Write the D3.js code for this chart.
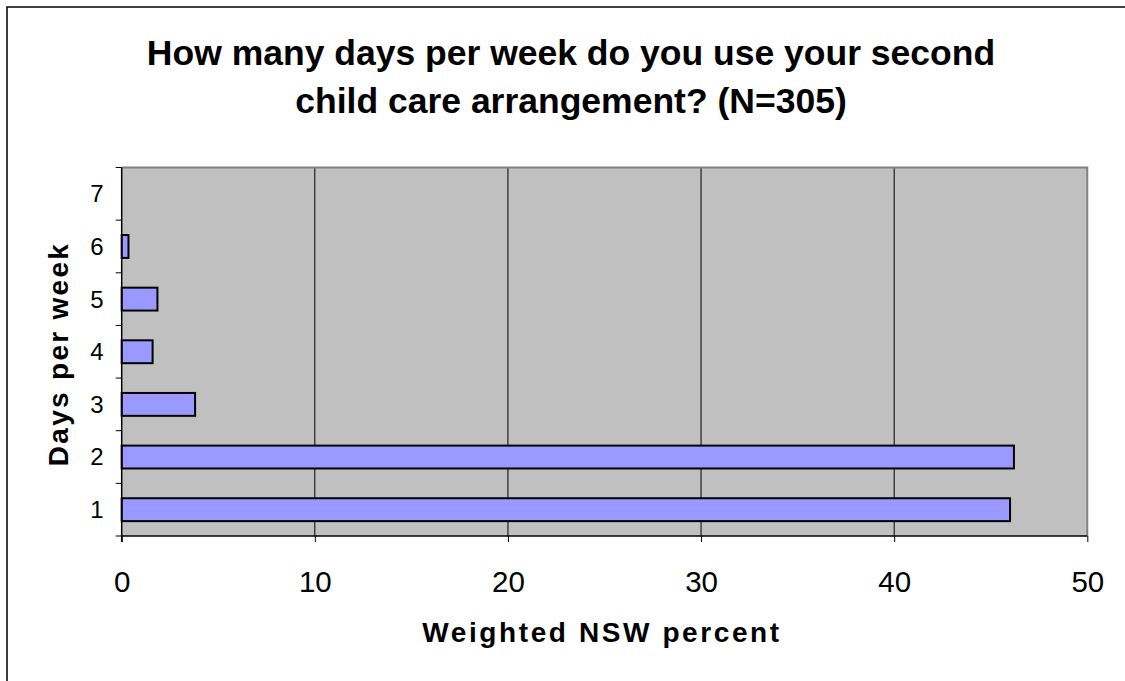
<!DOCTYPE html>
<html><head><meta charset="utf-8">
<script src="https://cdn.jsdelivr.net/npm/d3@7"></script>
<style>body{margin:0;background:#fff;}svg{display:block;font-family:"Liberation Sans",Arial,sans-serif;}</style>
</head><body>
<svg id="c" width="1125" height="681"></svg>
<script>
const categories = ["1","2","3","4","5","6","7"];
const values = [46.0, 46.2, 3.8, 1.6, 1.85, 0.35, 0];
const xTicks = [0,10,20,30,40,50];
const titleLines = ["How many days per week do you use your second","child care arrangement? (N=305)"];
const xTitle = "Weighted NSW percent";
const yTitle = "Days per week";

const svg = d3.select("#c");
const m = {left:121.7, top:167.5, right:1087.3, bottom:536};

// outer border (extends beyond canvas)
svg.append("rect").attr("x",7).attr("y",7).attr("width",1140).attr("height",700)
  .attr("fill","#fff").attr("stroke","#000").attr("stroke-width",1.5);

const x = d3.scaleLinear().domain([0,50]).range([m.left,m.right]);
const y = d3.scaleBand().domain(categories.slice().reverse()).range([m.top,m.bottom]).paddingInner(1.3/2.3).paddingOuter(0.65/2.3);
const yb = d3.scaleBand().domain(categories.slice().reverse()).range([m.top,m.bottom]);

svg.append("rect").attr("x",m.left).attr("y",m.top).attr("width",m.right-m.left).attr("height",m.bottom-m.top)
  .attr("fill","#c0c0c0");
// gridlines
svg.append("g").selectAll("line").data(xTicks.filter(d=>d>0&&d<50)).join("line")
  .attr("x1",d=>x(d)).attr("x2",d=>x(d)).attr("y1",m.top).attr("y2",m.bottom)
  .attr("stroke","#000").attr("stroke-width",1);
// plot border top/right gray
svg.append("path").attr("d",`M${m.left},${m.top}H${m.right}V${m.bottom}`).attr("fill","none")
  .attr("stroke","#808080").attr("stroke-width",2);

// bars
svg.append("g").selectAll("rect").data(categories.map((c,i)=>({c,v:values[i]})).filter(d=>d.v>0)).join("rect")
  .attr("x",x(0)).attr("y",d=>y(d.c)).attr("width",d=>x(d.v)-x(0)).attr("height",y.bandwidth())
  .attr("fill","#9999ff").attr("stroke","#000").attr("stroke-width",2);

// x axis
const xa = svg.append("g").attr("transform",`translate(0,${m.bottom})`)
  .call(d3.axisBottom(x).tickValues(xTicks).tickSize(6).tickPadding(29));
xa.select(".domain").attr("stroke","#000").attr("stroke-width",1.5).attr("d",`M${m.left},0H${m.right}`);
xa.selectAll("text").attr("font-size",29.5).attr("fill","#000").attr("font-family","Liberation Sans, Arial, sans-serif");
xa.selectAll(".tick line").attr("stroke","#000");

// y axis
const ya = svg.append("g").attr("transform",`translate(${m.left},0)`);
ya.append("line").attr("x1",0).attr("x2",0).attr("y1",m.top).attr("y2",m.bottom+6).attr("stroke","#000").attr("stroke-width",1.5);
const bounds = categories.map(c=>yb(c)).concat([m.bottom]);
ya.selectAll("line.t").data(bounds).join("line").attr("class","t")
  .attr("x1",-6).attr("x2",0).attr("y1",d=>d).attr("y2",d=>d).attr("stroke","#000");
ya.selectAll("text").data(categories).join("text")
  .attr("x",-18).attr("y",d=>yb(d)+yb.bandwidth()/2).attr("dy","0.35em")
  .attr("text-anchor","end").attr("font-size",24).text(d=>d);

// titles
svg.append("g").selectAll("text").data(titleLines).join("text")
  .attr("x",571).attr("y",(d,i)=>65+i*48).attr("text-anchor","middle")
  .attr("font-size",35.5).attr("font-weight","bold").text(d=>d);
svg.append("text").attr("x",602).attr("y",642).attr("text-anchor","middle")
  .attr("font-size",28).attr("font-weight","bold").attr("letter-spacing",2.6).text(xTitle);
svg.append("text").attr("transform","translate(68,354) rotate(-90)").attr("text-anchor","middle")
  .attr("font-size",28).attr("font-weight","bold").attr("letter-spacing",2.3).text(yTitle);
</script>
</body></html>
